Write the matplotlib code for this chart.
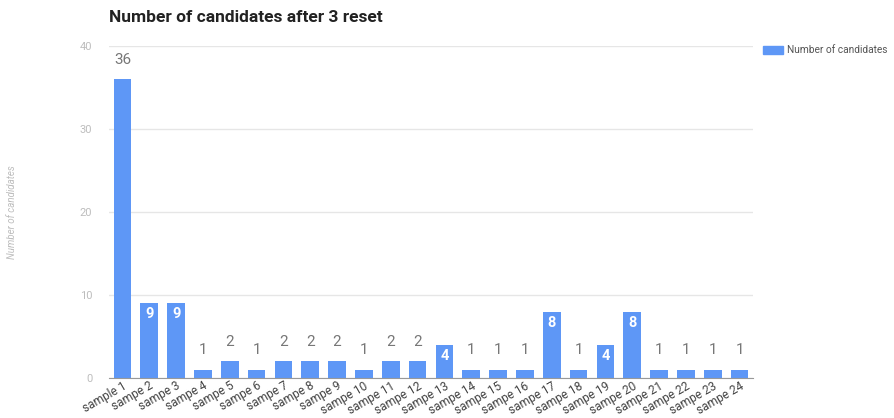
import matplotlib
matplotlib.use("Agg")
import matplotlib.pyplot as plt

categories = ["sample 1", "sampe 2", "sampe 3", "sampe 4", "sampe 5", "sampe 6", "sampe 7",
              "sampe 8", "sampe 9", "sampe 10", "sampe 11", "sampe 12", "sampe 13", "sampe 14",
              "sampe 15", "sampe 16", "sampe 17", "sampe 18", "sampe 19", "sampe 20", "sampe 21",
              "sampe 22", "sampe 23", "sampe 24"]
values = [36, 9, 9, 1, 2, 1, 2, 2, 2, 1, 2, 2, 4, 1, 1, 1, 8, 1, 4, 8, 1, 1, 1, 1]
yticks = [0, 10, 20, 30, 40]

plt.rcParams['font.family'] = ['Roboto', 'DejaVu Sans']

fig = plt.figure(figsize=(8.94, 4.18), dpi=100)
ax = fig.add_axes([109/894, 40/418, (753-109)/894, (378-46)/418])

x = list(range(len(values)))
color = '#5e97f6'
bars = ax.bar(x, values, width=0.66, color=color, zorder=3)

ax.set_xlim(-0.5, len(values) - 0.5)
ax.set_ylim(0, 40)
ax.set_yticks(yticks)
ax.set_yticklabels([str(t) for t in yticks], color='#bdbdbd', fontsize=8)
ax.yaxis.grid(True, color='#e6e6e6', linewidth=1, zorder=0)
ax.tick_params(axis='y', length=0, pad=12)
ax.tick_params(axis='x', length=0, pad=1)
ax.set_xticks(x)
ax.set_xticklabels(categories, rotation=30, ha='right', rotation_mode='anchor',
                   fontsize=8.6, color='#444444')
for s in ['top', 'right', 'left']:
    ax.spines[s].set_visible(False)
ax.spines['bottom'].set_color('#999999')
ax.spines['bottom'].set_zorder(4)

for xi, v in zip(x, values):
    if v in (4, 8, 9):
        ax.text(xi, v - 0.5, str(v), ha='center', va='top', color='white',
                fontsize=10.5, fontweight='bold', zorder=5)
    else:
        ax.text(xi, v + 1.5, str(v), ha='center', va='bottom', color='#777777',
                fontsize=11, zorder=5)

fig.text(109/894, 1 - 17/418, "Number of candidates after 3 reset", fontsize=12.5,
         fontweight='bold', color='#222222', ha='left', va='center')
fig.text(12/894, 1 - 212/418, "Number of candidates", rotation=90, fontsize=7,
         style='italic', color='#bdbdbd', ha='center', va='center')

fig.patches.append(plt.Rectangle((763/894, 1 - 54/418), 20/894, 8/418,
                                 transform=fig.transFigure, color=color))
fig.text(787/894, 1 - 50/418, "Number of candidates", fontsize=7.3, color='#555555',
         ha='left', va='center')

fig.savefig("out.png", dpi=100)
